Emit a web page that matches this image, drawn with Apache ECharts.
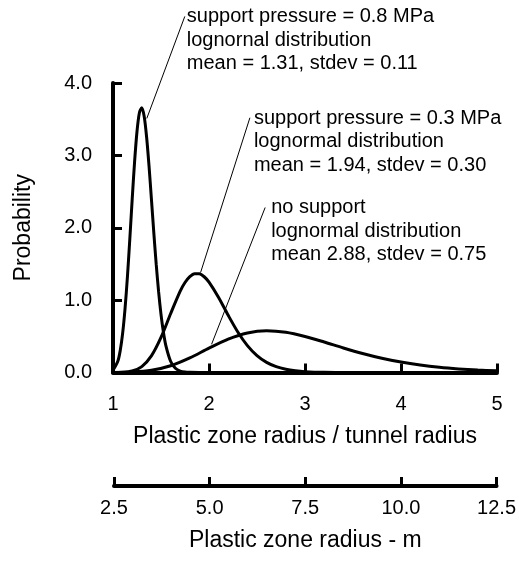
<!DOCTYPE html>
<html>
<head>
<meta charset="utf-8">
<script src="https://cdn.jsdelivr.net/npm/echarts@6/dist/echarts.min.js"></script>
<style>
html,body{margin:0;padding:0;background:#fff;}
#chart{width:519px;height:563px;}
</style>
</head>
<body>
<div id="chart"></div>
<script>
// ---- data ----
var xTicks = [1, 2, 3, 4, 5];
var yTicks = ['0.0', '1.0', '2.0', '3.0', '4.0'];
var mTicks = ['2.5', '5.0', '7.5', '10.0', '12.5'];

// support pressure = 0.8 MPa
var c1X = [1.00,1.05,1.075,1.10,1.125,1.15,1.175,1.20,1.225,1.25,1.275,1.30,1.325,1.35,1.375,1.40,1.425,1.45,1.475,1.50,1.525,1.55,1.60,1.65,1.70,1.75,1.80,1.90];
var c1Y = [0.030,0.155,0.302,0.537,0.876,1.319,1.841,2.395,2.914,3.330,3.588,3.657,3.536,3.254,2.857,2.400,1.933,1.497,1.116,0.803,0.559,0.376,0.156,0.058,0.020,0.006,0.002,0.000];
// support pressure = 0.3 MPa
var c2X = [1.0,1.1,1.2,1.3,1.4,1.5,1.6,1.7,1.75,1.8,1.85,1.9,1.95,2.0,2.1,2.2,2.3,2.4,2.5,2.6,2.7,2.8,2.9,3.0,3.2,3.5];
var c2Y = [0.000,0.003,0.021,0.082,0.229,0.484,0.812,1.124,1.243,1.325,1.366,1.364,1.323,1.249,1.037,0.790,0.560,0.372,0.234,0.140,0.081,0.045,0.024,0.012,0.003,0.000];
// no support
var c3X = [1.0,1.2,1.4,1.6,1.8,2.0,2.2,2.4,2.6,2.8,3.0,3.2,3.4,3.6,3.8,4.0,4.2,4.4,4.6,4.8,5.0];
var c3Y = [0.001,0.006,0.030,0.093,0.202,0.337,0.462,0.547,0.577,0.556,0.498,0.421,0.339,0.263,0.197,0.144,0.103,0.072,0.050,0.034,0.023];

// annotations: leader line bottom (on curve) and top (at text)
var noteTexts = [
  'support pressure = 0.8 MPa\nlognornal distribution\nmean = 1.31, stdev = 0.11',
  'support pressure = 0.3 MPa\nlognormal distribution\nmean = 1.94, stdev = 0.30',
  'no support\nlognormal distribution\nmean 2.88, stdev = 0.75'
];
var noteFromX = [1.352, 1.912, 2.027];
var noteFromY = [3.51, 1.38, 0.39];
var noteToX = [1.748, 2.426, 2.585];
var noteToY = [4.92, 3.52, 2.28];

var FONT = 'Liberation Sans, Arial, Helvetica, sans-serif';
var noteGap = [2, 4, 6]; // px gap between leader top and text

function pairs(xs, ys){ return xs.map(function(x,i){ return [x, ys[i]]; }); }

var chart = echarts.init(document.getElementById('chart'), null, {renderer:'canvas'});

var curveStyle = {color:'#000', width:3};
var series = [
  {type:'line', data:pairs(c1X,c1Y), showSymbol:false, smooth:0.3, lineStyle:curveStyle, itemStyle:{color:'#000'}, z:3},
  {type:'line', data:pairs(c2X,c2Y), showSymbol:false, smooth:0.3, lineStyle:curveStyle, itemStyle:{color:'#000'}, z:3},
  {type:'line', data:pairs(c3X,c3Y), showSymbol:false, smooth:0.3, lineStyle:curveStyle, itemStyle:{color:'#000'}, z:3}
];
for (var i = 0; i < noteTexts.length; i++) {
  series.push({type:'line', clip:false, showSymbol:false, silent:true,
    data:[[noteFromX[i], noteFromY[i]], [noteToX[i], noteToY[i]]],
    lineStyle:{color:'#000', width:1}, itemStyle:{color:'#000'}, z:2});
}
// secondary axis (metres) carries no data
series.push({type:'line', xAxisIndex:1, yAxisIndex:1, data:[], showSymbol:false});

var axisLine = {show:true, onZero:false, lineStyle:{color:'#000', width:4}};
var axisTick = {show:true, inside:true, length:9, lineStyle:{color:'#000', width:3}};

chart.setOption({
  animation:false,
  backgroundColor:'#fff',
  grid:[
    {left:113, right:22, top:83, bottom:190.5, containLabel:false},
    {left:114, right:20, top:476, height:10, containLabel:false}
  ],
  xAxis:[
    {type:'value', gridIndex:0, min:1, max:5, interval:1,
     axisLine:axisLine, axisTick:axisTick, splitLine:{show:false},
     axisLabel:{color:'#000', fontSize:20, fontFamily:FONT, margin:22,
       formatter:function(v){ return xTicks.indexOf(v) >= 0 ? String(v) : ''; }},
     name:'Plastic zone radius / tunnel radius', nameLocation:'middle', nameGap:53,
     nameTextStyle:{color:'#000', fontSize:23, fontFamily:FONT}},
    {type:'value', gridIndex:1, min:2.5, max:12.5, interval:2.5,
     axisLine:axisLine, axisTick:axisTick, splitLine:{show:false},
     axisLabel:{color:'#000', fontSize:20, fontFamily:FONT, margin:12,
       formatter:function(v){ return mTicks[Math.round((v-2.5)/2.5)]; }},
     name:'Plastic zone radius - m', nameLocation:'middle', nameGap:43,
     nameTextStyle:{color:'#000', fontSize:23, fontFamily:FONT}}
  ],
  yAxis:[
    {type:'value', gridIndex:0, min:0, max:4, interval:1,
     axisLine:axisLine, axisTick:axisTick, splitLine:{show:false},
     axisLabel:{color:'#000', fontSize:20, fontFamily:FONT, margin:21,
       formatter:function(v){ return yTicks[Math.round(v)]; }},
     name:'Probability', nameLocation:'middle', nameGap:78,
     nameTextStyle:{color:'#000', fontSize:23, fontFamily:FONT}},
    {type:'value', gridIndex:1, show:false, min:0, max:1}
  ],
  series:series
});

var graphics = [];
for (var j = 0; j < noteTexts.length; j++) {
  var p = chart.convertToPixel({gridIndex:0}, [noteToX[j], noteToY[j]]);
  graphics.push({type:'text', left:p[0] + noteGap[j], top:p[1] - 11.5,
    style:{text:noteTexts[j], fill:'#000', font:'20px ' + FONT, lineHeight:23.5}});
}
chart.setOption({graphic:graphics});
</script>
</body>
</html>
